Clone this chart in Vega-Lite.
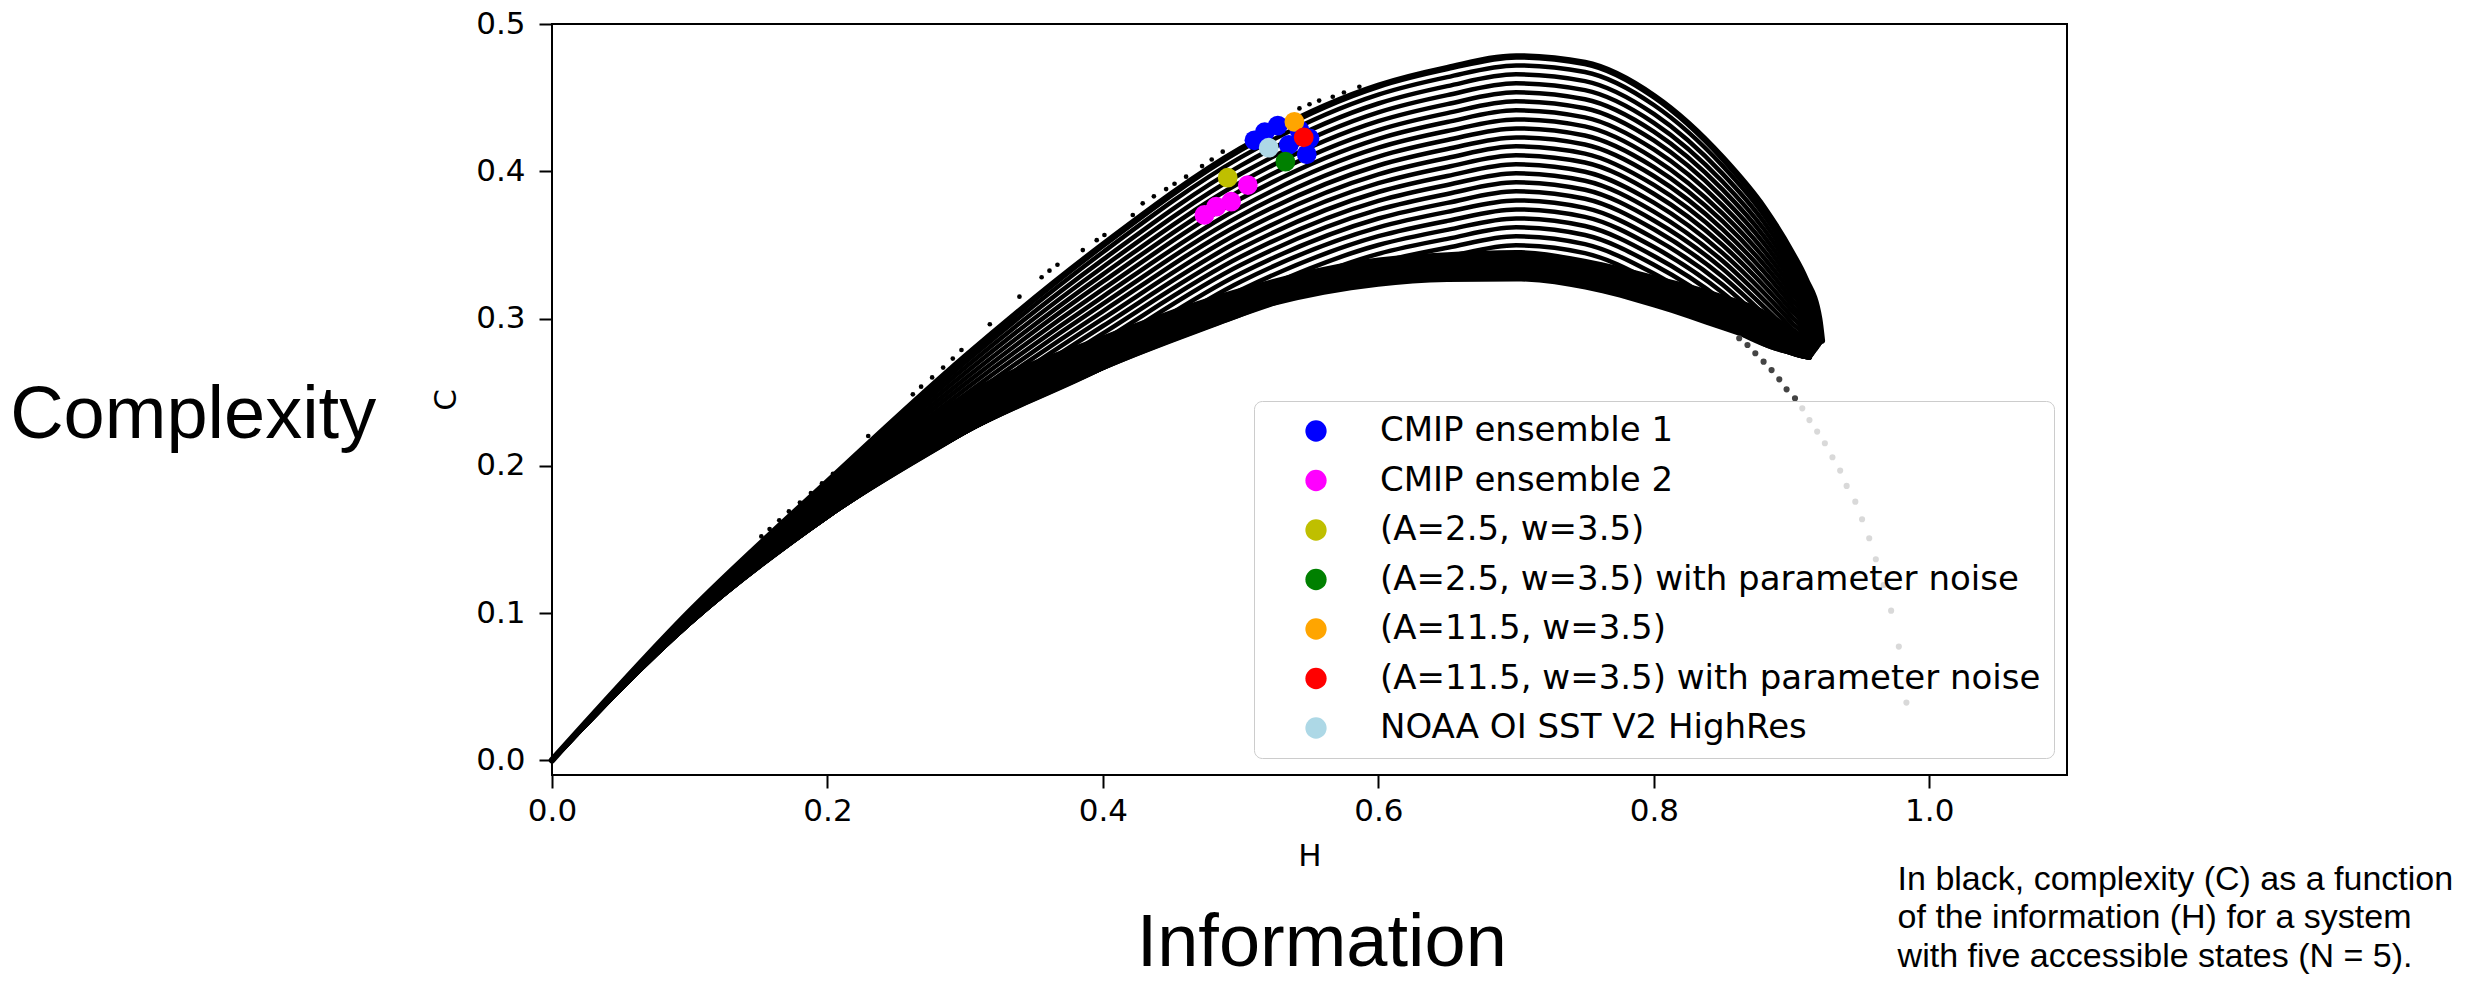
{
"$schema": "https://vega.github.io/schema/vega-lite/v6.json",
"width": 1515, "height": 751,
"autosize": {"type": "none"},
"padding": {"left": 552, "top": 24, "right": 422, "bottom": 215},
"background": "white",
"config": {"view": {"stroke": "black", "strokeWidth": 2}, "font": "DejaVu Sans"},
"datasets": {
"band": [
{"h":0,"c":0,"c2":0},{"h":0.1,"c":0.093,"c2":0.097},{"h":0.2,"c":0.1655,"c2":0.178},{"h":0.3,"c":0.223,"c2":0.2494},{"h":0.4,"c":0.2665,"c2":0.2886},{"h":0.5,"c":0.3025,"c2":0.3209},{"h":0.6,"c":0.3215,"c2":0.3414},{"h":0.65,"c":0.3248,"c2":0.345},{"h":0.7,"c":0.3252,"c2":0.3465},{"h":0.75,"c":0.3197,"c2":0.3405},{"h":0.8,"c":0.3075,"c2":0.3295},{"h":0.85,"c":0.292,"c2":0.3165},{"h":0.88,"c":0.2825,"c2":0.306},{"h":0.9,"c":0.2765,"c2":0.294},{"h":0.91,"c":0.274,"c2":0.286},{"h":0.913,"c":0.2735,"c2":0.278}
],
"curves": [
{"k":0,"h":0,"c":0},{"k":0,"h":0.1,"c":0.101},{"k":0,"h":0.2,"c":0.189},{"k":0,"h":0.3,"c":0.274},{"k":0,"h":0.4,"c":0.35},{"k":0,"h":0.5,"c":0.415},{"k":0,"h":0.6,"c":0.458},{"k":0,"h":0.65,"c":0.47},{"k":0,"h":0.7,"c":0.478},{"k":0,"h":0.75,"c":0.4735},{"k":0,"h":0.8,"c":0.451},{"k":0,"h":0.85,"c":0.409},{"k":0,"h":0.88,"c":0.375},{"k":0,"h":0.9,"c":0.345},{"k":0,"h":0.91,"c":0.327},{"k":0,"h":0.92,"c":0.3},{"k":0,"h":0.922,"c":0.285},
{"k":1,"h":0,"c":0},{"k":1,"h":0.1,"c":0.1004},{"k":1,"h":0.2,"c":0.1871},{"k":1,"h":0.3,"c":0.2703},{"k":1,"h":0.4,"c":0.345},{"k":1,"h":0.5,"c":0.4094},{"k":1,"h":0.6,"c":0.452},{"k":1,"h":0.65,"c":0.4639},{"k":1,"h":0.7,"c":0.4719},{"k":1,"h":0.75,"c":0.4674},{"k":1,"h":0.8,"c":0.445},{"k":1,"h":0.85,"c":0.4036},{"k":1,"h":0.88,"c":0.3702},{"k":1,"h":0.9,"c":0.341},{"k":1,"h":0.91,"c":0.3236},{"k":1,"h":0.9213,"c":0.2841},
{"k":2,"h":0,"c":0},{"k":2,"h":0.1,"c":0.0997},{"k":2,"h":0.2,"c":0.1852},{"k":2,"h":0.3,"c":0.2667},{"k":2,"h":0.4,"c":0.34},{"k":2,"h":0.5,"c":0.4038},{"k":2,"h":0.6,"c":0.446},{"k":2,"h":0.65,"c":0.4578},{"k":2,"h":0.7,"c":0.4658},{"k":2,"h":0.75,"c":0.4612},{"k":2,"h":0.8,"c":0.4389},{"k":2,"h":0.85,"c":0.3982},{"k":2,"h":0.88,"c":0.3654},{"k":2,"h":0.9,"c":0.3371},{"k":2,"h":0.91,"c":0.3202},{"k":2,"h":0.9206,"c":0.2832},
{"k":3,"h":0,"c":0},{"k":3,"h":0.1,"c":0.0991},{"k":3,"h":0.2,"c":0.1834},{"k":3,"h":0.3,"c":0.263},{"k":3,"h":0.4,"c":0.335},{"k":3,"h":0.5,"c":0.3981},{"k":3,"h":0.6,"c":0.44},{"k":3,"h":0.65,"c":0.4517},{"k":3,"h":0.7,"c":0.4597},{"k":3,"h":0.75,"c":0.4551},{"k":3,"h":0.8,"c":0.4329},{"k":3,"h":0.85,"c":0.3929},{"k":3,"h":0.88,"c":0.3606},{"k":3,"h":0.9,"c":0.3331},{"k":3,"h":0.91,"c":0.3168},{"k":3,"h":0.9198,"c":0.2822},
{"k":4,"h":0,"c":0},{"k":4,"h":0.1,"c":0.0984},{"k":4,"h":0.2,"c":0.1815},{"k":4,"h":0.3,"c":0.2593},{"k":4,"h":0.4,"c":0.33},{"k":4,"h":0.5,"c":0.3925},{"k":4,"h":0.6,"c":0.434},{"k":4,"h":0.65,"c":0.4456},{"k":4,"h":0.7,"c":0.4536},{"k":4,"h":0.75,"c":0.4489},{"k":4,"h":0.8,"c":0.4269},{"k":4,"h":0.85,"c":0.3875},{"k":4,"h":0.88,"c":0.3558},{"k":4,"h":0.9,"c":0.3291},{"k":4,"h":0.91,"c":0.3134},{"k":4,"h":0.9191,"c":0.2813},
{"k":5,"h":0,"c":0},{"k":5,"h":0.1,"c":0.0978},{"k":5,"h":0.2,"c":0.1796},{"k":5,"h":0.3,"c":0.2556},{"k":5,"h":0.4,"c":0.325},{"k":5,"h":0.5,"c":0.3869},{"k":5,"h":0.6,"c":0.428},{"k":5,"h":0.65,"c":0.4395},{"k":5,"h":0.7,"c":0.4475},{"k":5,"h":0.75,"c":0.4428},{"k":5,"h":0.8,"c":0.4209},{"k":5,"h":0.85,"c":0.3821},{"k":5,"h":0.88,"c":0.351},{"k":5,"h":0.9,"c":0.3251},{"k":5,"h":0.91,"c":0.31},{"k":5,"h":0.9184,"c":0.2804},
{"k":6,"h":0,"c":0},{"k":6,"h":0.1,"c":0.0972},{"k":6,"h":0.2,"c":0.1777},{"k":6,"h":0.3,"c":0.252},{"k":6,"h":0.4,"c":0.3199},{"k":6,"h":0.5,"c":0.3813},{"k":6,"h":0.6,"c":0.422},{"k":6,"h":0.65,"c":0.4334},{"k":6,"h":0.7,"c":0.4414},{"k":6,"h":0.75,"c":0.4366},{"k":6,"h":0.8,"c":0.4148},{"k":6,"h":0.85,"c":0.3767},{"k":6,"h":0.88,"c":0.3461},{"k":6,"h":0.9,"c":0.3212},{"k":6,"h":0.91,"c":0.3066},{"k":6,"h":0.9177,"c":0.2795},
{"k":7,"h":0,"c":0},{"k":7,"h":0.1,"c":0.0965},{"k":7,"h":0.2,"c":0.1758},{"k":7,"h":0.3,"c":0.2483},{"k":7,"h":0.4,"c":0.3149},{"k":7,"h":0.5,"c":0.3756},{"k":7,"h":0.6,"c":0.416},{"k":7,"h":0.65,"c":0.4273},{"k":7,"h":0.7,"c":0.4352},{"k":7,"h":0.75,"c":0.4305},{"k":7,"h":0.8,"c":0.4088},{"k":7,"h":0.85,"c":0.3713},{"k":7,"h":0.88,"c":0.3413},{"k":7,"h":0.9,"c":0.3172},{"k":7,"h":0.91,"c":0.3033},{"k":7,"h":0.917,"c":0.2786},
{"k":8,"h":0,"c":0},{"k":8,"h":0.1,"c":0.0959},{"k":8,"h":0.2,"c":0.174},{"k":8,"h":0.3,"c":0.2446},{"k":8,"h":0.4,"c":0.3099},{"k":8,"h":0.5,"c":0.37},{"k":8,"h":0.6,"c":0.41},{"k":8,"h":0.65,"c":0.4212},{"k":8,"h":0.7,"c":0.4291},{"k":8,"h":0.75,"c":0.4243},{"k":8,"h":0.8,"c":0.4028},{"k":8,"h":0.85,"c":0.3659},{"k":8,"h":0.88,"c":0.3365},{"k":8,"h":0.9,"c":0.3132},{"k":8,"h":0.91,"c":0.2999},{"k":8,"h":0.9162,"c":0.2776},
{"k":9,"h":0,"c":0},{"k":9,"h":0.1,"c":0.0952},{"k":9,"h":0.2,"c":0.1721},{"k":9,"h":0.3,"c":0.241},{"k":9,"h":0.4,"c":0.3049},{"k":9,"h":0.5,"c":0.3644},{"k":9,"h":0.6,"c":0.4039},{"k":9,"h":0.65,"c":0.4151},{"k":9,"h":0.7,"c":0.423},{"k":9,"h":0.75,"c":0.4182},{"k":9,"h":0.8,"c":0.3968},{"k":9,"h":0.85,"c":0.3606},{"k":9,"h":0.88,"c":0.3317},{"k":9,"h":0.9,"c":0.3092},{"k":9,"h":0.91,"c":0.2965},{"k":9,"h":0.9155,"c":0.2767},
{"k":10,"h":0,"c":0},{"k":10,"h":0.1,"c":0.0946},{"k":10,"h":0.2,"c":0.1702},{"k":10,"h":0.3,"c":0.2373},{"k":10,"h":0.4,"c":0.2999},{"k":10,"h":0.5,"c":0.3588},{"k":10,"h":0.6,"c":0.3979},{"k":10,"h":0.65,"c":0.409},{"k":10,"h":0.7,"c":0.4169},{"k":10,"h":0.75,"c":0.412},{"k":10,"h":0.8,"c":0.3907},{"k":10,"h":0.85,"c":0.3552},{"k":10,"h":0.88,"c":0.3269},{"k":10,"h":0.9,"c":0.3053},{"k":10,"h":0.91,"c":0.2931},{"k":10,"h":0.9148,"c":0.2758},
{"k":11,"h":0,"c":0},{"k":11,"h":0.1,"c":0.094},{"k":11,"h":0.2,"c":0.1683},{"k":11,"h":0.3,"c":0.2336},{"k":11,"h":0.4,"c":0.2949},{"k":11,"h":0.5,"c":0.3531},{"k":11,"h":0.6,"c":0.3919},{"k":11,"h":0.65,"c":0.4029},{"k":11,"h":0.7,"c":0.4108},{"k":11,"h":0.75,"c":0.4059},{"k":11,"h":0.8,"c":0.3847},{"k":11,"h":0.85,"c":0.3498},{"k":11,"h":0.88,"c":0.3221},{"k":11,"h":0.9,"c":0.3013},{"k":11,"h":0.91,"c":0.2897},{"k":11,"h":0.9141,"c":0.2749},
{"k":12,"h":0,"c":0},{"k":12,"h":0.1,"c":0.0933},{"k":12,"h":0.2,"c":0.1664},{"k":12,"h":0.3,"c":0.2299},{"k":12,"h":0.4,"c":0.2899},{"k":12,"h":0.5,"c":0.3475},{"k":12,"h":0.6,"c":0.3859},{"k":12,"h":0.65,"c":0.3968},{"k":12,"h":0.7,"c":0.4047},{"k":12,"h":0.75,"c":0.3997},{"k":12,"h":0.8,"c":0.3787},{"k":12,"h":0.85,"c":0.3444},{"k":12,"h":0.88,"c":0.3173},{"k":12,"h":0.9,"c":0.2973},{"k":12,"h":0.91,"c":0.2863},{"k":12,"h":0.9134,"c":0.274},
{"k":13,"h":0,"c":0},{"k":13,"h":0.1,"c":0.093},{"k":13,"h":0.2,"c":0.1655},{"k":13,"h":0.3,"c":0.2263},{"k":13,"h":0.4,"c":0.2849},{"k":13,"h":0.5,"c":0.3419},{"k":13,"h":0.6,"c":0.3799},{"k":13,"h":0.65,"c":0.3907},{"k":13,"h":0.7,"c":0.3986},{"k":13,"h":0.75,"c":0.3936},{"k":13,"h":0.8,"c":0.3726},{"k":13,"h":0.85,"c":0.339},{"k":13,"h":0.88,"c":0.3125},{"k":13,"h":0.9,"c":0.2934},{"k":13,"h":0.91,"c":0.2829},{"k":13,"h":0.913,"c":0.2735},
{"k":14,"h":0,"c":0},{"k":14,"h":0.1,"c":0.093},{"k":14,"h":0.2,"c":0.1655},{"k":14,"h":0.3,"c":0.223},{"k":14,"h":0.4,"c":0.2799},{"k":14,"h":0.5,"c":0.3363},{"k":14,"h":0.6,"c":0.3739},{"k":14,"h":0.65,"c":0.3846},{"k":14,"h":0.7,"c":0.3925},{"k":14,"h":0.75,"c":0.3874},{"k":14,"h":0.8,"c":0.3666},{"k":14,"h":0.85,"c":0.3337},{"k":14,"h":0.88,"c":0.3077},{"k":14,"h":0.9,"c":0.2894},{"k":14,"h":0.91,"c":0.2795},{"k":14,"h":0.913,"c":0.2735},
{"k":15,"h":0,"c":0},{"k":15,"h":0.1,"c":0.093},{"k":15,"h":0.2,"c":0.1655},{"k":15,"h":0.3,"c":0.223},{"k":15,"h":0.4,"c":0.2749},{"k":15,"h":0.5,"c":0.3306},{"k":15,"h":0.6,"c":0.3679},{"k":15,"h":0.65,"c":0.3785},{"k":15,"h":0.7,"c":0.3864},{"k":15,"h":0.75,"c":0.3813},{"k":15,"h":0.8,"c":0.3606},{"k":15,"h":0.85,"c":0.3283},{"k":15,"h":0.88,"c":0.3029},{"k":15,"h":0.9,"c":0.2854},{"k":15,"h":0.91,"c":0.2761},{"k":15,"h":0.913,"c":0.2735},
{"k":16,"h":0,"c":0},{"k":16,"h":0.1,"c":0.093},{"k":16,"h":0.2,"c":0.1655},{"k":16,"h":0.3,"c":0.223},{"k":16,"h":0.4,"c":0.2698},{"k":16,"h":0.5,"c":0.325},{"k":16,"h":0.6,"c":0.3619},{"k":16,"h":0.65,"c":0.3724},{"k":16,"h":0.7,"c":0.3802},{"k":16,"h":0.75,"c":0.3751},{"k":16,"h":0.8,"c":0.3546},{"k":16,"h":0.85,"c":0.3229},{"k":16,"h":0.88,"c":0.298},{"k":16,"h":0.9,"c":0.2814},{"k":16,"h":0.91,"c":0.274},{"k":16,"h":0.913,"c":0.2735},
{"k":17,"h":0,"c":0},{"k":17,"h":0.1,"c":0.093},{"k":17,"h":0.2,"c":0.1655},{"k":17,"h":0.3,"c":0.223},{"k":17,"h":0.4,"c":0.2665},{"k":17,"h":0.5,"c":0.3194},{"k":17,"h":0.6,"c":0.3559},{"k":17,"h":0.65,"c":0.3663},{"k":17,"h":0.7,"c":0.3741},{"k":17,"h":0.75,"c":0.369},{"k":17,"h":0.8,"c":0.3485},{"k":17,"h":0.85,"c":0.3175},{"k":17,"h":0.88,"c":0.2932},{"k":17,"h":0.9,"c":0.2775},{"k":17,"h":0.91,"c":0.274},{"k":17,"h":0.913,"c":0.2735},
{"k":18,"h":0,"c":0},{"k":18,"h":0.1,"c":0.093},{"k":18,"h":0.2,"c":0.1655},{"k":18,"h":0.3,"c":0.223},{"k":18,"h":0.4,"c":0.2665},{"k":18,"h":0.5,"c":0.3138},{"k":18,"h":0.6,"c":0.3499},{"k":18,"h":0.65,"c":0.3602},{"k":18,"h":0.7,"c":0.368},{"k":18,"h":0.75,"c":0.3628},{"k":18,"h":0.8,"c":0.3425},{"k":18,"h":0.85,"c":0.3121},{"k":18,"h":0.88,"c":0.2884},{"k":18,"h":0.9,"c":0.2765},{"k":18,"h":0.91,"c":0.274},{"k":18,"h":0.913,"c":0.2735},
{"k":19,"h":0,"c":0},{"k":19,"h":0.1,"c":0.093},{"k":19,"h":0.2,"c":0.1655},{"k":19,"h":0.3,"c":0.223},{"k":19,"h":0.4,"c":0.2665},{"k":19,"h":0.5,"c":0.3081},{"k":19,"h":0.6,"c":0.3439},{"k":19,"h":0.65,"c":0.3541},{"k":19,"h":0.7,"c":0.3619},{"k":19,"h":0.75,"c":0.3567},{"k":19,"h":0.8,"c":0.3365},{"k":19,"h":0.85,"c":0.3067},{"k":19,"h":0.88,"c":0.2836},{"k":19,"h":0.9,"c":0.2765},{"k":19,"h":0.91,"c":0.274},{"k":19,"h":0.913,"c":0.2735},
{"k":20,"h":0,"c":0},{"k":20,"h":0.1,"c":0.093},{"k":20,"h":0.2,"c":0.1655},{"k":20,"h":0.3,"c":0.223},{"k":20,"h":0.4,"c":0.2665},{"k":20,"h":0.5,"c":0.3025},{"k":20,"h":0.6,"c":0.3379},{"k":20,"h":0.65,"c":0.348},{"k":20,"h":0.7,"c":0.3558},{"k":20,"h":0.75,"c":0.3505},{"k":20,"h":0.8,"c":0.3305},{"k":20,"h":0.85,"c":0.3014},{"k":20,"h":0.88,"c":0.2825},{"k":20,"h":0.9,"c":0.2765},{"k":20,"h":0.91,"c":0.274},{"k":20,"h":0.913,"c":0.2735},
{"k":21,"h":0,"c":0},{"k":21,"h":0.1,"c":0.093},{"k":21,"h":0.2,"c":0.1655},{"k":21,"h":0.3,"c":0.223},{"k":21,"h":0.4,"c":0.2665},{"k":21,"h":0.5,"c":0.3025},{"k":21,"h":0.6,"c":0.3319},{"k":21,"h":0.65,"c":0.3419},{"k":21,"h":0.7,"c":0.3497},{"k":21,"h":0.75,"c":0.3444},{"k":21,"h":0.8,"c":0.3244},{"k":21,"h":0.85,"c":0.296},{"k":21,"h":0.88,"c":0.2825},{"k":21,"h":0.9,"c":0.2765},{"k":21,"h":0.91,"c":0.274},{"k":21,"h":0.913,"c":0.2735}
],
"specks": [
{"h":0.152,"c":0.152},{"h":0.158,"c":0.157},{"h":0.165,"c":0.163},{"h":0.172,"c":0.169},{"h":0.18,"c":0.175},{"h":0.188,"c":0.1815},{"h":0.196,"c":0.188},{"h":0.204,"c":0.1945},{"h":0.2296,"c":0.2202},{"h":0.262,"c":0.2485},{"h":0.268,"c":0.2537},{"h":0.276,"c":0.26},{"h":0.284,"c":0.2667},{"h":0.291,"c":0.2728},{"h":0.2973,"c":0.2786},{"h":0.3179,"c":0.2961},{"h":0.3394,"c":0.3148},{"h":0.3555,"c":0.328},{"h":0.3612,"c":0.3325},{"h":0.367,"c":0.3365},{"h":0.3854,"c":0.3465},{"h":0.3955,"c":0.3532},{"h":0.4011,"c":0.3567},{"h":0.4217,"c":0.3703},{"h":0.4289,"c":0.3782},{"h":0.437,"c":0.383},{"h":0.4459,"c":0.3879},{"h":0.452,"c":0.3915},{"h":0.4604,"c":0.3963},{"h":0.472,"c":0.4035},{"h":0.479,"c":0.408},{"h":0.487,"c":0.4133},{"h":0.5427,"c":0.4427},{"h":0.55,"c":0.4455},{"h":0.557,"c":0.448},{"h":0.5669,"c":0.4506},{"h":0.575,"c":0.4535},{"h":0.5862,"c":0.4574}
],
"trail": [
{"h":0.862,"c":0.2866},{"h":0.868,"c":0.282},{"h":0.8737,"c":0.2764},{"h":0.8797,"c":0.2707},{"h":0.8855,"c":0.265},{"h":0.8911,"c":0.2587},{"h":0.8964,"c":0.2519},{"h":0.9025,"c":0.2458},{"h":0.9078,"c":0.239},{"h":0.913,"c":0.231},{"h":0.9186,"c":0.2232},{"h":0.9242,"c":0.2153},{"h":0.9297,"c":0.2058},{"h":0.9353,"c":0.1967},{"h":0.94,"c":0.1863},{"h":0.9463,"c":0.1756},{"h":0.9512,"c":0.1637},{"h":0.9564,"c":0.1508},{"h":0.9612,"c":0.1365},{"h":0.9668,"c":0.119},{"h":0.9723,"c":0.1016},{"h":0.9779,"c":0.0772},{"h":0.9834,"c":0.0392}
],
"pts": [
{"s":"CMIP ensemble 1","h":0.51,"c":0.421},{"s":"CMIP ensemble 1","h":0.5175,"c":0.4265},{"s":"CMIP ensemble 1","h":0.527,"c":0.431},{"s":"CMIP ensemble 1","h":0.5427,"c":0.428},{"s":"CMIP ensemble 1","h":0.55,"c":0.4223},{"s":"CMIP ensemble 1","h":0.548,"c":0.4115},{"s":"CMIP ensemble 1","h":0.535,"c":0.418},
{"s":"CMIP ensemble 2","h":0.4737,"c":0.3703},{"s":"CMIP ensemble 2","h":0.4822,"c":0.3759},{"s":"CMIP ensemble 2","h":0.4931,"c":0.3793},{"s":"CMIP ensemble 2","h":0.5052,"c":0.3906},
{"s":"(A=2.5, w=3.5)","h":0.4906,"c":0.3956},
{"s":"(A=2.5, w=3.5) with parameter noise","h":0.5325,"c":0.4065},
{"s":"(A=11.5, w=3.5)","h":0.539,"c":0.4336},
{"s":"(A=11.5, w=3.5) with parameter noise","h":0.5458,"c":0.423},
{"s":"NOAA OI SST V2 HighRes","h":0.5204,"c":0.416}
],
"bigtext": [
{"h":-0.3934,"c":0.2189,"t":"Complexity"},
{"h":0.4245,"c":-0.1397,"t":"Information"}
],
"note": [
{"h":0.977,"c":-0.0878,"t":"In black, complexity (C) as a function"},
{"h":0.977,"c":-0.1142,"t":"of the information (H) for a system"},
{"h":0.977,"c":-0.1406,"t":"with five accessible states (N = 5)."}
]
},
"encoding": {
"x": {"field":"h","type":"quantitative","scale":{"domain":[0,1.1],"nice":false,"zero":false},
 "axis":{"title":"H","values":[0,0.2,0.4,0.6,0.8,1],"format":".1f","domain":false,"grid":false,"tickSize":13,"tickWidth":2,"tickColor":"black","labelFont":"DejaVu Sans","labelFontSize":31,"labelColor":"black","labelPadding":8,"labelFlush":false,"labelOverlap":false,"titleFont":"DejaVu Sans","titleFontSize":31,"titleFontWeight":"normal","titleColor":"black","titlePadding":15}},
"y": {"field":"c","type":"quantitative","scale":{"domain":[-0.01,0.5],"nice":false,"zero":false},
 "axis":{"title":"C","values":[0,0.1,0.2,0.3,0.4,0.5],"format":".1f","domain":false,"grid":false,"tickSize":13,"tickWidth":2,"tickColor":"black","labelFont":"DejaVu Sans","labelFontSize":31,"labelColor":"black","labelPadding":14,"labelOverlap":false,"titleFont":"DejaVu Sans","titleFontSize":31,"titleFontWeight":"normal","titleColor":"black","titlePadding":13}}
},
"layer": [
{"data":{"name":"band"},"mark":{"type":"area","color":"black","interpolate":"monotone"},"encoding":{"y2":{"field":"c2"}}},
{"data":{"name":"curves"},"transform":[{"filter":"datum.k > 0"}],"mark":{"type":"line","color":"black","strokeWidth":4.5,"interpolate":"monotone","strokeCap":"round"},"encoding":{"detail":{"field":"k","type":"nominal"}}},
{"data":{"name":"curves"},"transform":[{"filter":"datum.k == 0"}],"mark":{"type":"line","color":"black","strokeWidth":6.5,"interpolate":"monotone","strokeCap":"round"},"encoding":{}},
{"data":{"name":"specks"},"mark":{"type":"circle","color":"black","size":22,"opacity":1}},
{"data":{"name":"trail"},"mark":{"type":"circle","color":"#444444","size":38,"opacity":1}},
{"data":{"name":"pts"},"mark":{"type":"circle","size":390,"opacity":1},
 "encoding":{"color":{"field":"s","type":"nominal",
  "scale":{"domain":["CMIP ensemble 1","CMIP ensemble 2","(A=2.5, w=3.5)","(A=2.5, w=3.5) with parameter noise","(A=11.5, w=3.5)","(A=11.5, w=3.5) with parameter noise","NOAA OI SST V2 HighRes"],"range":["#0000ff","#ff00ff","#bfbf00","#008000","#ffa500","#ff0000","#add8e6"]},
  "legend":{"title":null,"orient":"none","legendX":702,"legendY":377,"direction":"vertical","columns":1,"padding":13,"rowPadding":15.5,"symbolOffset":32,"labelOffset":47,"labelFont":"DejaVu Sans","labelFontSize":34,"labelColor":"black","labelLimit":1000,"symbolType":"circle","symbolSize":452,"symbolStrokeWidth":0,"symbolOpacity":1,"strokeColor":"#cccccc","fillColor":"rgba(255,255,255,0.8)","cornerRadius":8}}}},
{"data":{"name":"bigtext"},"mark":{"type":"text","font":"Liberation Sans","fontSize":74,"align":"left","baseline":"alphabetic","color":"black"},"encoding":{"text":{"field":"t","type":"nominal"}}},
{"data":{"name":"note"},"mark":{"type":"text","font":"Liberation Sans","fontSize":34,"align":"left","baseline":"alphabetic","color":"black"},"encoding":{"text":{"field":"t","type":"nominal"}}}
]
}
